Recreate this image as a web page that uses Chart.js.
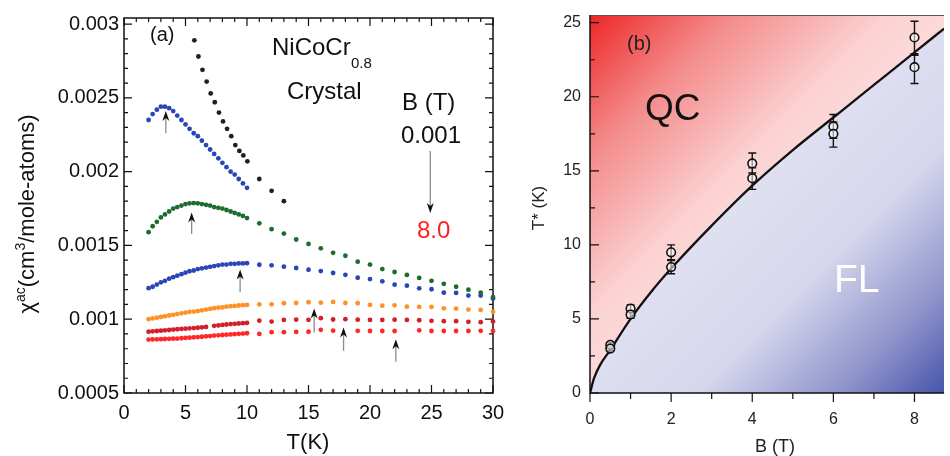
<!DOCTYPE html>
<html>
<head>
<meta charset="utf-8">
<script src="https://cdn.jsdelivr.net/npm/chart.js@4.4.0/dist/chart.umd.min.js"></script>
<style>
  html, body { margin: 0; padding: 0; background: #fff; }
  #wrap { position: relative; width: 950px; height: 456px; overflow: hidden; }
  #boxA { position: absolute; left: 0; top: 0; width: 505px; height: 456px; }
  #boxB { position: absolute; left: 505px; top: 0; width: 445px; height: 456px; }
</style>
</head>
<body>
<div id="wrap">
  <div id="boxA"><canvas id="chartA"></canvas></div>
  <div id="boxB"><canvas id="chartB"></canvas></div>
</div>
<script>
// ---- panel (a) data : chi_ac vs T ----
let tLow = [2, 2.33, 2.67, 3, 3.33, 3.67, 4, 4.33, 4.67, 5, 5.33, 5.67, 6, 6.33, 6.67, 7, 7.33, 7.67, 8, 8.33, 8.67, 9, 9.33, 9.67, 10];
let tHigh = [11, 12, 13, 14, 15, 16, 17, 18, 19, 20, 21, 22, 23, 24, 25, 26, 27, 28, 29, 30];
let tBlack = [5.72, 6.05, 6.38, 6.72, 7.05, 7.38, 7.72, 8.05, 8.38, 8.72, 9.05, 9.38, 9.7, 10.03, 11, 12, 13];

let chiBlack = [0.00289, 0.00278, 0.00269, 0.00261, 0.00253, 0.00247, 0.0024, 0.00234, 0.00229, 0.00224, 0.00218, 0.00214, 0.00211, 0.00207, 0.00195, 0.00187, 0.0018];
let chiBlueLow = [0.00235, 0.00239, 0.00242, 0.00244, 0.00244, 0.00243, 0.00241, 0.00238, 0.00235, 0.00232, 0.00229, 0.00226, 0.00224, 0.00221, 0.00218, 0.00215, 0.00212, 0.00209, 0.00206, 0.00203, 0.002, 0.00198, 0.00195, 0.00192, 0.00189];
let chiGreenLow = [0.00159, 0.00163, 0.00166, 0.00169, 0.00171, 0.00173, 0.00175, 0.00176, 0.00177, 0.00178, 0.001785, 0.001787, 0.001785, 0.00178, 0.001775, 0.00177, 0.00176, 0.001755, 0.00175, 0.00174, 0.00173, 0.00172, 0.00171, 0.0017, 0.001685];
let chiGreenHigh = [0.00165, 0.00161, 0.00158, 0.00154, 0.00151, 0.00148, 0.00145, 0.00143, 0.00139, 0.00137, 0.00134, 0.00132, 0.0013, 0.00128, 0.00126, 0.00124, 0.00122, 0.0012, 0.00118, 0.00115];
let chiBlue2Low = [0.00121, 0.00122, 0.001235, 0.00125, 0.00126, 0.001275, 0.001285, 0.001295, 0.001305, 0.001315, 0.001325, 0.00133, 0.00134, 0.001345, 0.00135, 0.001355, 0.00136, 0.001365, 0.00137, 0.00137, 0.001375, 0.001375, 0.001378, 0.001378, 0.00138];
let chiBlue2High = [0.001369, 0.001365, 0.001356, 0.001347, 0.001335, 0.001326, 0.001313, 0.001301, 0.001281, 0.001272, 0.001257, 0.001234, 0.001227, 0.001209, 0.001203, 0.00118, 0.001178, 0.00116, 0.00116, 0.00114];
let chiOrangeLow = [0.001, 0.001005, 0.00101, 0.001015, 0.00102, 0.001025, 0.00103, 0.001035, 0.00104, 0.001045, 0.00105, 0.001052, 0.001055, 0.00106, 0.001065, 0.00107, 0.001075, 0.001078, 0.00108, 0.001085, 0.001088, 0.00109, 0.001093, 0.001095, 0.001097];
let chiOrangeHigh = [0.001101, 0.001101, 0.001108, 0.00111, 0.001115, 0.001112, 0.001117, 0.00111, 0.001108, 0.001097, 0.001092, 0.001094, 0.001085, 0.001083, 0.001083, 0.001074, 0.001072, 0.001065, 0.001063, 0.00105];
let chiCrimsonLow = [0.000915, 0.000918, 0.00092, 0.000922, 0.000925, 0.000927, 0.00093, 0.000932, 0.000934, 0.000936, 0.000938, 0.00094, 0.000942, 0.000945, 0.000948, null, 0.000955, 0.000958, 0.000961, 0.000964, 0.000967, 0.000969, 0.000971, 0.000973, 0.000975];
let chiCrimsonHigh = [0.00099, 0.000984, 0.000995, 0.000997, 0.000996, 0.001007, 0.000998, 0.001, 0.000997, 0.000995, 0.000995, 0.000997, 0.000995, 0.000993, 0.000989, 0.000987, 0.000987, 0.000982, 0.00098, 0.000985];
let chiRedLow = [0.000862, 0.000863, 0.000864, 0.000865, 0.000866, 0.000867, 0.000868, 0.000869, 0.000871, 0.000873, 0.000875, 0.000877, 0.000879, 0.000881, 0.000884, 0.000886, 0.000889, 0.000891, 0.000893, 0.000895, 0.000897, 0.000899, 0.000901, 0.000903, 0.000905];
let chiRedHigh = [0.0009, 0.000912, 0.000912, 0.000914, 0.000915, 0.000928, 0.000922, null, 0.000921, 0.00092, 0.00092, 0.00092, null, 0.000925, 0.00092, 0.00092, 0.00092, 0.00092, 0.000921, 0.00092];

let tTicks = [0, 5, 10, 15, 20, 25, 30];
let chiTicks = [0.0005, 0.001, 0.0015, 0.002, 0.0025, 0.003];
let chiTickLabels = ["0.0005", "0.001", "0.0015", "0.002", "0.0025", "0.003"];

// little arrows marking the maxima
let arrowT = [3.4, 5.5, 9.44, 15.46, 17.85, 22.1];
let arrowTip = [0.00241, 0.001723, 0.001336, 0.001072, 0.000944, 0.000865];
let arrowBase = [0.00226, 0.001577, 0.001182, 0.00091, 0.000786, 0.000712];

// ---- panel (b) data : T* vs B ----
let bPoints = [0.5, 0.5, 1, 1, 2, 2, 4, 4, 6, 6, 8, 8];
let tStar = [3.25, 3.0, 5.7, 5.3, 9.5, 8.5, 15.5, 14.5, 18.0, 17.5, 24.0, 22.0];
let tStarLow = [3.1, 2.85, 5.5, 5.05, 9.0, 8.05, 14.85, 13.75, 17.2, 16.6, 22.9, 20.9];
let tStarHigh = [3.4, 3.15, 5.95, 5.5, 10.0, 8.95, 16.2, 15.2, 18.8, 18.3, 25.1, 22.8];

let bCurve = [0, 0.1, 0.25, 0.5, 1, 1.5, 2, 3, 4, 5, 6, 7, 8, 8.73];
let tCurve = [0, 1.0, 1.9, 2.9, 5.0, 6.8, 8.4, 11.3, 14.0, 16.4, 18.6, 20.8, 23.0, 24.6];

let bTicks = [0, 2, 4, 6, 8];
let tStarTicks = [0, 5, 10, 15, 20, 25];

const FONT = "'Liberation Sans', Arial, sans-serif";
Chart.defaults.font.family = FONT;
Chart.defaults.animation = false;

function pares(xs, ys) {
  return xs.map((x, i) => ({ x: x, y: ys[i] }));
}

function serie(data, cor) {
  return {
    data: data,
    showLine: false,
    pointRadius: 2.4,
    pointBorderWidth: 0,
    pointBackgroundColor: cor,
    pointBorderColor: cor,
    clip: 4
  };
}

function texto(ctx, s, x, y, size, cor, align) {
  ctx.font = size + "px " + FONT;
  ctx.fillStyle = cor || "#111";
  ctx.textAlign = align || "left";
  ctx.textBaseline = "alphabetic";
  ctx.fillText(s, x, y);
}

function setaCima(ctx, x, yTip, yBase) {
  ctx.strokeStyle = "#8c8c8c";
  ctx.lineWidth = 1.3;
  ctx.beginPath();
  ctx.moveTo(x, yTip + 6);
  ctx.lineTo(x, yBase);
  ctx.stroke();
  ctx.fillStyle = "#111";
  ctx.beginPath();
  ctx.moveTo(x, yTip);
  ctx.lineTo(x + 3.5, yTip + 10);
  ctx.lineTo(x, yTip + 7);
  ctx.lineTo(x - 3.5, yTip + 10);
  ctx.closePath();
  ctx.fill();
}

// FRAME + TICKS + TEXT (a)
const desenhoA = {
  id: "desenhoA",
  beforeDatasetsDraw(chart) {
    const { ctx, chartArea: a, scales: { x, y } } = chart;
    ctx.save();
    ctx.strokeStyle = "#111";
    ctx.lineWidth = 1.5;
    ctx.strokeRect(a.left, a.top, a.right - a.left, a.bottom - a.top);
    ctx.lineWidth = 1.2;
    ctx.beginPath();
    for (let t = 0; t <= 30; t++) {
      const px = x.getPixelForValue(t);
      const len = t % 5 === 0 ? 8 : 4;
      ctx.moveTo(px, a.bottom); ctx.lineTo(px, a.bottom - len);
      ctx.moveTo(px, a.top); ctx.lineTo(px, a.top + len);
    }
    for (let k = 5; k <= 30; k++) {
      const py = y.getPixelForValue(k / 10000);
      const len = k % 5 === 0 ? 8 : 4;
      ctx.moveTo(a.left, py); ctx.lineTo(a.left + len, py);
      ctx.moveTo(a.right, py); ctx.lineTo(a.right - len, py);
    }
    ctx.stroke();
    ctx.restore();
  },
  afterDraw(chart) {
    const { ctx, scales: { x, y } } = chart;
    ctx.save();
    texto(ctx, "(a)", 150, 41, 20);
    texto(ctx, "NiCoCr", 272, 55, 24);
    texto(ctx, "0.8", 351, 68, 15);
    texto(ctx, "Crystal", 287, 99, 24);
    texto(ctx, "B (T)", 402, 110, 24);
    texto(ctx, "0.001", 401, 143, 24);
    texto(ctx, "8.0", 417, 238, 24, "#ff2020");

    for (let i = 0; i < arrowT.length; i++) {
      setaCima(ctx, x.getPixelForValue(arrowT[i]), y.getPixelForValue(arrowTip[i]), y.getPixelForValue(arrowBase[i]));
    }
    // seta grande 0.001 -> 8.0
    const bx = x.getPixelForValue(24.9);
    const y1 = y.getPixelForValue(0.00214);
    const y2 = y.getPixelForValue(0.00172);
    ctx.strokeStyle = "#8c8c8c";
    ctx.lineWidth = 1.3;
    ctx.beginPath(); ctx.moveTo(bx, y1); ctx.lineTo(bx, y2 - 6); ctx.stroke();
    ctx.fillStyle = "#111";
    ctx.beginPath();
    ctx.moveTo(bx, y2); ctx.lineTo(bx + 3.5, y2 - 10); ctx.lineTo(bx, y2 - 7); ctx.lineTo(bx - 3.5, y2 - 10);
    ctx.closePath(); ctx.fill();

    // titulo eixo x
    ctx.font = "22px " + FONT;
    ctx.fillStyle = "#111";
    ctx.textAlign = "center";
    ctx.textBaseline = "middle";
    ctx.fillText("T(K)", 308, 443);

    // titulo eixo y com sobrescritos
    const partes = [["\u03c7", 22, 0], ["ac", 14, 9], ["(cm", 22, 0], ["3", 14, 9], ["/mole-atoms)", 22, 0]];
    let total = 0;
    partes.forEach(p => { ctx.font = p[1] + "px " + FONT; total += ctx.measureText(p[0]).width; });
    ctx.translate(34, 214 + total / 2);
    ctx.rotate(-Math.PI / 2);
    ctx.textAlign = "left";
    ctx.textBaseline = "alphabetic";
    let pos = 0;
    partes.forEach(p => {
      ctx.font = p[1] + "px " + FONT;
      ctx.fillText(p[0], pos, -p[2]);
      pos += ctx.measureText(p[0]).width;
    });
    ctx.restore();
  }
};

new Chart(document.getElementById("chartA"), {
  type: "scatter",
  data: {
    datasets: [
      serie(pares(tBlack, chiBlack), "#202020"),
      serie(pares(tLow, chiBlueLow), "#2a46b6"),
      serie(pares(tLow.concat(tHigh), chiGreenLow.concat(chiGreenHigh)), "#1d6c2e"),
      serie(pares(tLow.concat(tHigh), chiBlue2Low.concat(chiBlue2High)), "#2a46b6"),
      serie(pares(tLow.concat(tHigh), chiOrangeLow.concat(chiOrangeHigh)), "#ff9226"),
      serie(pares(tLow.concat(tHigh), chiCrimsonLow.concat(chiCrimsonHigh)), "#d31f2b"),
      serie(pares(tLow.concat(tHigh), chiRedLow.concat(chiRedHigh)), "#ff2828")
    ]
  },
  options: {
    responsive: true,
    maintainAspectRatio: false,
    events: [],
    layout: { padding: { left: 0, right: 12, top: 18, bottom: 0 } },
    plugins: { legend: { display: false }, tooltip: { enabled: false } },
    scales: {
      x: {
        type: "linear",
        min: 0,
        max: 30,
        grid: { display: false, drawTicks: false },
        border: { display: false },
        afterBuildTicks: s => { s.ticks = tTicks.map(v => ({ value: v })); },
        afterFit: s => { s.height = 63; s.paddingLeft = 0; s.paddingRight = 0; },
        ticks: { padding: 8, color: "#111", font: { size: 20 }, maxRotation: 0 }
      },
      y: {
        type: "linear",
        min: 0.0005,
        max: 0.003041,
        grid: { display: false, drawTicks: false },
        border: { display: false },
        afterBuildTicks: s => { s.ticks = chiTicks.map(v => ({ value: v })); },
        afterFit: s => { s.width = 124; s.paddingTop = 0; s.paddingBottom = 0; },
        ticks: {
          padding: 5,
          color: "#111",
          font: { size: 20 },
          callback: v => chiTickLabels[chiTicks.indexOf(v)]
        }
      }
    }
  },
  plugins: [desenhoA]
});

// ---- panel (b) ----
function gradQC(context) {
  const a = context.chart.chartArea;
  if (!a) return "#fde4e4";
  const g = context.chart.ctx.createLinearGradient(a.left, a.top, a.left + 250, a.top + 250);
  g.addColorStop(0, "#ee2626");
  g.addColorStop(0.28, "#f48a8a");
  g.addColorStop(0.6, "#fbd2d2");
  g.addColorStop(1, "#fee8e8");
  return g;
}

function gradFL(context) {
  const a = context.chart.chartArea;
  if (!a) return "#e2e2f4";
  const g = context.chart.ctx.createLinearGradient(a.right - 240, a.bottom - 223, a.right, a.bottom + 17);
  g.addColorStop(0, "#e4e4f5");
  g.addColorStop(0.45, "#d6d6ed");
  g.addColorStop(0.75, "#8d92ca");
  g.addColorStop(1, "#3b4ba6");
  return g;
}

const desenhoB = {
  id: "desenhoB",
  afterDatasetDraw(chart, args) {
    if (args.index !== 1) return;
    const { ctx, scales: { x, y } } = chart;
    ctx.save();
    ctx.strokeStyle = "#111";
    ctx.lineWidth = 1.4;
    ctx.beginPath();
    for (let i = 0; i < bPoints.length; i++) {
      const px = x.getPixelForValue(bPoints[i]);
      const lo = y.getPixelForValue(tStarLow[i]);
      const hi = y.getPixelForValue(tStarHigh[i]);
      ctx.moveTo(px, lo); ctx.lineTo(px, hi);
      ctx.moveTo(px - 4, lo); ctx.lineTo(px + 4, lo);
      ctx.moveTo(px - 4, hi); ctx.lineTo(px + 4, hi);
    }
    ctx.stroke();
    ctx.restore();
  },
  afterDraw(chart) {
    const { ctx, chartArea: a, scales: { x, y } } = chart;
    ctx.save();
    // eixos
    ctx.strokeStyle = "#555";
    ctx.lineWidth = 1;
    ctx.beginPath(); ctx.moveTo(a.left, a.top + 0.5); ctx.lineTo(a.right, a.top + 0.5); ctx.stroke();
    ctx.strokeStyle = "#111";
    ctx.lineWidth = 1.5;
    ctx.beginPath();
    ctx.moveTo(a.left, a.top); ctx.lineTo(a.left, a.bottom); ctx.lineTo(a.right, a.bottom);
    ctx.stroke();
    ctx.lineWidth = 1.2;
    ctx.beginPath();
    for (let k = 0; k <= 10; k++) {
      const py = y.getPixelForValue(k * 2.5);
      const len = k % 2 === 0 ? 9 : 5;
      ctx.moveTo(a.left, py); ctx.lineTo(a.left + len, py);
    }
    for (let b = 0; b <= 8; b++) {
      const px = x.getPixelForValue(b);
      const len = b % 2 === 0 ? 9 : 6;
      ctx.moveTo(px, a.bottom); ctx.lineTo(px, a.bottom + len);
    }
    ctx.stroke();

    texto(ctx, "(b)", 122, 50, 20, "#222");
    texto(ctx, "QC", 140, 120, 37, "#111");
    texto(ctx, "FL", 329, 292, 39, "#ffffff");

    ctx.font = "18px " + FONT;
    ctx.fillStyle = "#222";
    ctx.textAlign = "center";
    ctx.textBaseline = "middle";
    ctx.fillText("B (T)", 270, 447);

    ctx.translate(34, 208);
    ctx.rotate(-Math.PI / 2);
    ctx.font = "17px " + FONT;
    ctx.fillText("T* (K)", 0, 0);
    ctx.restore();
  }
};

new Chart(document.getElementById("chartB"), {
  type: "scatter",
  data: {
    datasets: [
      {
        data: pares(bPoints, tStar),
        showLine: false,
        pointRadius: 4.3,
        pointBorderWidth: 1.6,
        pointBorderColor: "#111",
        pointBackgroundColor: "rgba(255,255,255,0.55)",
        order: 0
      },
      {
        data: pares(bCurve, tCurve),
        showLine: true,
        borderColor: "#111",
        borderWidth: 2.3,
        pointRadius: 0,
        cubicInterpolationMode: "monotone",
        fill: false,
        order: 1
      },
      {
        data: pares(bCurve, tCurve),
        showLine: true,
        borderWidth: 0,
        borderColor: "rgba(0,0,0,0)",
        pointRadius: 0,
        cubicInterpolationMode: "monotone",
        fill: "end",
        backgroundColor: gradQC,
        order: 2
      },
      {
        data: pares(bCurve, tCurve),
        showLine: true,
        borderWidth: 0,
        borderColor: "rgba(0,0,0,0)",
        pointRadius: 0,
        cubicInterpolationMode: "monotone",
        fill: "start",
        backgroundColor: gradFL,
        order: 3
      }
    ]
  },
  options: {
    responsive: true,
    maintainAspectRatio: false,
    events: [],
    layout: { padding: { left: 0, right: 0, top: 15, bottom: 0 } },
    plugins: { legend: { display: false }, tooltip: { enabled: false } },
    scales: {
      x: {
        type: "linear",
        min: 0,
        max: 8.73,
        grid: { display: false, drawTicks: false },
        border: { display: false },
        afterBuildTicks: s => { s.ticks = bTicks.map(v => ({ value: v })); },
        afterFit: s => { s.height = 63; s.paddingLeft = 0; s.paddingRight = 0; },
        ticks: { padding: 17, color: "#222", font: { size: 16 }, maxRotation: 0 }
      },
      y: {
        type: "linear",
        min: 0,
        max: 25.52,
        grid: { display: false, drawTicks: false },
        border: { display: false },
        afterBuildTicks: s => { s.ticks = tStarTicks.map(v => ({ value: v })); },
        afterFit: s => { s.width = 85; s.paddingTop = 0; s.paddingBottom = 0; },
        ticks: { padding: 9, color: "#222", font: { size: 16 } }
      }
    }
  },
  plugins: [desenhoB]
});
</script>
</body>
</html>
